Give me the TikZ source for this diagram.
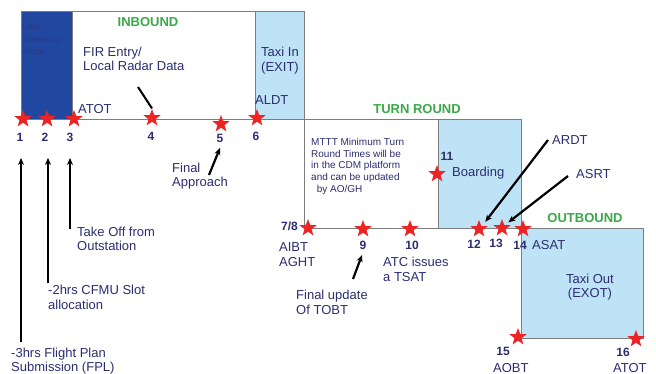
\documentclass[tikz,border=0pt]{standalone}
\usepackage{fontspec}
\setmainfont{Liberation Sans}
\usepackage{xcolor}
\usetikzlibrary{shapes.geometric, positioning, arrows.meta}

\definecolor{navy}{RGB}{43,45,112}
\definecolor{darkbox}{RGB}{32,72,160}
\definecolor{darktext}{RGB}{45,55,130}
\definecolor{lightbox}{RGB}{190,226,246}
\definecolor{phasegreen}{RGB}{58,168,72}
\definecolor{boxline}{RGB}{125,125,125}
\definecolor{starred}{RGB}{238,36,36}

\tikzset{
  milestone/.style={star, star points=5, star point ratio=2.4, fill=starred,
    draw=none, minimum size=18pt, inner sep=0pt},
  num/.style={font=\bfseries\fontsize{12}{12}\selectfont, text=navy, inner sep=0pt},
  lbl/.style={font=\fontsize{13}{14.5}\selectfont, text=navy, inner sep=0pt, align=left},
  phase/.style={font=\bfseries\fontsize{13}{13}\selectfont, text=phasegreen, inner sep=0pt},
  pointer/.style={-{Stealth[length=7pt,width=6pt]}, line width=2.2pt, black},
  leader/.style={line width=2pt, black},
  frame/.style={draw=boxline, line width=1pt},
}

\begin{document}
\begin{tikzpicture}[x=1pt, y=-1pt]
    \useasboundingbox (0,0) rectangle (656,374);

    % =================================================================
    % 1. CAC O NEN
    % =================================================================
    \fill[darkbox]  (21,12)   rectangle (72,120);
    \fill[lightbox] (255,12)  rectangle (304,120);
    \fill[lightbox] (438,120) rectangle (521,229);
    \fill[lightbox] (521,229) rectangle (643,338);

    % Duong vien
    \draw[frame] (21,120) -- (21,12) -- (304,12) -- (304,229);
    \draw[frame] (72,12) -- (72,120);
    \draw[frame] (255,12) -- (255,120);
    \draw[frame] (21,120) -- (521,120) -- (521,338) -- (643,338) -- (643,229) -- (304,229);
    \draw[frame] (438,120) -- (438,229);

    % =================================================================
    % 2. TIEU DE CAC GIAI DOAN
    % =================================================================
    \node[phase] (inbound)  at (148,22)  {INBOUND};
    \node[phase] (turnround) at (417,109) {TURN ROUND};
    \node[phase] (outbound) at (585,218) {OUTBOUND};

    % Chu trong cac o (moc base = dong cuoi)
    \node[inner sep=0pt, anchor=base west, align=left, text=darktext,
          font=\fontsize{8.5}{12.5}\selectfont] (coherency) at (22,55) {Data\\coherency\\check};
    \node[lbl, anchor=base west] (fir) at (83,71) {FIR Entry/\\Local Radar Data};
    \node[lbl, align=center, anchor=base] (taxiin) at (280,71.5) {Taxi In\\(EXIT)};
    \node[inner sep=0pt, anchor=base west, align=left, text=navy,
          font=\fontsize{10}{11.75}\selectfont] (mttt) at (311,192.5)
          {MTTT Minimum Turn\\Round Times will be\\in the CDM platform\\and can be updated\\\ \ by AO/GH};
    \node[lbl, align=center, anchor=base] (taxiout) at (590,298) {Taxi Out\\(EXOT)};

    % =================================================================
    % 3. CAC MOC THOI GIAN (NGOI SAO)
    % =================================================================
    \node[milestone] (s1)  at (23,119)  {};
    \node[milestone] (s2)  at (47,119)  {};
    \node[milestone] (s3)  at (74,119)  {};
    \node[milestone] (s4)  at (152,118) {};
    \node[milestone] (s5)  at (221,124) {};
    \node[milestone] (s6)  at (257,118) {};
    \node[milestone] (s78) at (308,228) {};
    \node[milestone] (s9)  at (363,229) {};
    \node[milestone] (s10) at (410,229) {};
    \node[milestone] (s11) at (437,174) {};
    \node[milestone] (s12) at (479,229) {};
    \node[milestone] (s13) at (502,228) {};
    \node[milestone] (s14) at (523,229) {};
    \node[milestone] (s15) at (518,337) {};
    \node[milestone] (s16) at (636,339) {};

    % So thu tu
    \node[num] (n1)  at (20,137)  {1};
    \node[num] (n2)  at (45,137)  {2};
    \node[num] (n3)  at (70,137)  {3};
    \node[num] (n4)  at (151,136) {4};
    \node[num] (n5)  at (220,138) {5};
    \node[num] (n6)  at (256,136) {6};
    \node[num, anchor=east] (n78) at (298,226) {7/8};
    \node[num] (n9)  at (363,245) {9};
    \node[num] (n10) at (412,245) {10};
    \node[num] (n11) at (447,156) {11};
    \node[num] (n12) at (474,244) {12};
    \node[num] (n13) at (496,243) {13};
    \node[num] (n14) at (520,245) {14};
    \node[num] (n15) at (503,351) {15};
    \node[num] (n16) at (623,352) {16};

    % =================================================================
    % 4. NHAN CHU
    % =================================================================
    \node[lbl, anchor=west] (atot1) at (78,109) {ATOT};
    \node[lbl, anchor=west] (aldt)  at (255,100) {ALDT};
    \node[lbl, anchor=base west] (approach) at (172,187)   {Final\\Approach};
    \node[lbl, anchor=base west] (takeoff)  at (77,251)    {Take Off from\\Outstation};
    \node[lbl, anchor=base west] (cfmu)     at (48,309)    {-2hrs CFMU Slot\\allocation};
    \node[lbl, anchor=base west] (fpl)      at (11,371.5)  {-3hrs Flight Plan\\Submission (FPL)};
    \node[lbl, anchor=base west] (aibt)     at (279,266)   {AIBT\\AGHT};
    \node[lbl, anchor=base west] (tobt)     at (296,314)   {Final update\\Of TOBT};
    \node[lbl, anchor=base west] (tsat)     at (383,281)   {ATC issues\\a TSAT};
    \node[lbl, anchor=west] (boarding) at (452,173) {Boarding};
    \node[lbl, anchor=west] (asat)     at (532,245) {ASAT};
    \node[lbl, anchor=west] (ardt)     at (552,140) {ARDT};
    \node[lbl, anchor=west] (asrt)     at (576,174) {ASRT};
    \node[lbl, anchor=west] (aobt)     at (493,368) {AOBT};
    \node[lbl, anchor=west] (atot2)    at (613,368) {ATOT};

    % =================================================================
    % 5. MUI TEN CHI DAN
    % =================================================================
    \coordinate (fir-tail)  at (138,87);
    \coordinate (app-tail)  at (209,175);
    \coordinate (app-head)  at (220,148);
    \coordinate (fpl-tail)  at (21,342);
    \coordinate (cfmu-tail) at (48,283);
    \coordinate (to-tail)   at (70,229);
    \coordinate (tobt-tail) at (353,279);
    \coordinate (tobt-head) at (362,255);

    \draw[leader]  (fir-tail) -- (s4.north);
    \draw[pointer] (app-tail) -- (app-head);
    \draw[pointer] (fpl-tail) -- (fpl-tail |- 0,158);
    \draw[pointer] (cfmu-tail) -- (cfmu-tail |- 0,158);
    \draw[pointer] (to-tail) -- (to-tail |- 0,158);
    \draw[pointer] (tobt-tail) -- (tobt-head);
    \draw[pointer, shorten >=5pt] ([xshift=-4pt]ardt.west) -- (s12.north east);
    \draw[pointer, shorten >=4pt] ([xshift=-8pt,yshift=-2pt]asrt.west) -- (s13.north east);

\end{tikzpicture}
\end{document}
